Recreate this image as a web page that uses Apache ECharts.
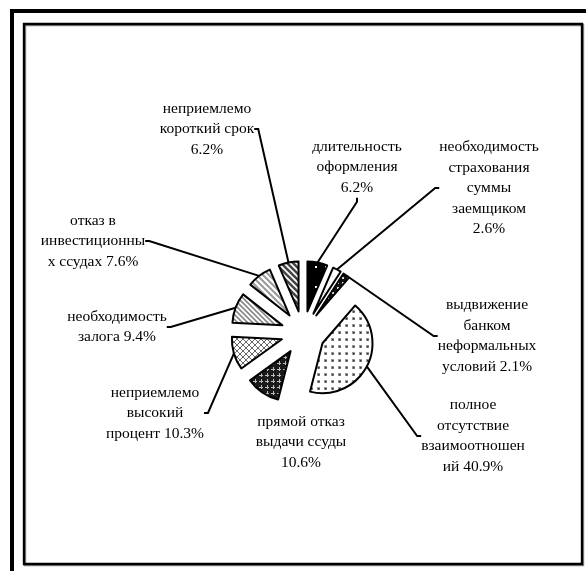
<!DOCTYPE html>
<html>
<head>
<meta charset="utf-8">
<script src="https://cdn.jsdelivr.net/npm/echarts@6/dist/echarts.min.js"></script>
<style>
  html, body { margin: 0; padding: 0; background: #fff; }
  #chart { width: 586px; height: 571px; }
</style>
</head>
<body>
<div id="chart"></div>
<script>
// Reasons for refusal / difficulties in bank lending, share of answers (%)
const categories = [
  'длительность оформления',
  'необходимость страхования суммы заемщиком',
  'выдвижение банком неформальных условий',
  'полное отсутствие взаимоотношений',
  'прямой отказ выдачи ссуды',
  'неприемлемо высокий процент',
  'необходимость залога',
  'отказ в инвестиционных ссудах',
  'неприемлемо короткий срок'
];
const values = [6.2, 2.6, 2.1, 40.9, 10.6, 10.3, 9.4, 7.6, 6.2];

// Wrapped label text; {c} is replaced by the slice value
const labelTexts = [
  'длительность\nоформления\n{c}%',
  'необходимость\nстрахования\nсуммы\nзаемщиком\n{c}%',
  'выдвижение\nбанком\nнеформальных\nусловий {c}%',
  'полное\nотсутствие\nвзаимоотношен\nий {c}%',
  'прямой отказ\nвыдачи ссуды\n{c}%',
  'неприемлемо\nвысокий\nпроцент {c}%',
  'необходимость\nзалога {c}%',
  'отказ в\nинвестиционны\nх ссудах {c}%',
  'неприемлемо\nкороткий срок\n{c}%'
];

// Centre of each label block (px)
const labelPos = [
  [357, 167], [489, 188], [487, 336], [473, 436], [301, 442],
  [155, 413], [117, 327], [93, 241], [207, 129]
];
// Side of the label block the leader line attaches to (null = no leader)
const leaderSide = ['bottom', 'left', 'left', 'left', null, 'right', 'right', 'right', 'right'];

// Pie geometry
const PIE_CENTER = [303, 333];
const PIE_RADIUS = 50;
const EXPLODE = 22;
const LEADER_TICK = 4;

// ---- fill patterns ----
function tile(w, h, draw) {
  const c = document.createElement('canvas');
  c.width = w; c.height = h;
  const g = c.getContext('2d');
  draw(g, w, h);
  return { image: c, repeat: 'repeat' };
}
function stripes(p, bg, fg, lw) {
  return tile(p, p, function (g) {
    g.fillStyle = bg; g.fillRect(0, 0, p, p);
    g.strokeStyle = fg; g.lineWidth = lw;
    for (let k = -p; k <= p; k += p) {
      g.beginPath(); g.moveTo(k - 1, -1); g.lineTo(k + p + 1, p + 1); g.stroke();
    }
  });
}
const patterns = [
  // black with sparse white dots
  tile(10, 20, function (g) {
    g.fillStyle = '#000'; g.fillRect(0, 0, 10, 20);
    g.fillStyle = '#fff'; g.fillRect(5, 6, 2, 2);
  }),
  // near-white
  tile(8, 8, function (g) {
    g.fillStyle = '#fff'; g.fillRect(0, 0, 8, 8);
    g.fillStyle = '#bbb'; g.fillRect(4, 4, 1, 1);
  }),
  // dark with white dots
  tile(5, 5, function (g) {
    g.fillStyle = '#111'; g.fillRect(0, 0, 5, 5);
    g.fillStyle = '#ddd'; g.fillRect(2, 2, 2, 2);
  }),
  // white with dark dots
  tile(7, 7, function (g) {
    g.fillStyle = '#fff'; g.fillRect(0, 0, 7, 7);
    g.fillStyle = '#999'; g.fillRect(2, 2, 3, 3);
    g.fillStyle = '#333'; g.fillRect(3, 3, 1.5, 1.5);
  }),
  // dark plaid
  tile(6, 6, function (g) {
    g.fillStyle = '#1a1a1a'; g.fillRect(0, 0, 6, 6);
    g.fillStyle = '#bbb'; g.fillRect(1, 3, 4, 1); g.fillRect(3, 1, 1, 4);
  }),
  // light lattice
  tile(6, 6, function (g) {
    g.fillStyle = '#fff'; g.fillRect(0, 0, 6, 6);
    g.strokeStyle = '#666'; g.lineWidth = 1;
    g.beginPath(); g.moveTo(0, 0); g.lineTo(6, 6); g.moveTo(6, 0); g.lineTo(0, 6); g.stroke();
  }),
  stripes(5, '#fff', '#888', 1.6),
  stripes(6, '#fff', '#999', 2),
  stripes(6, '#fff', '#444', 2.6)
];

// Leader line: from the slice's outer-arc midpoint (given by the pie layout)
// to the chosen side of the label block, ending with a short straight tick.
function leaderPoints(params) {
  const i = params.dataIndex;
  const side = leaderSide[i];
  if (!side || !params.labelLinePoints) return null;
  const p = labelPos[i];
  const w = params.labelRect.width, h = params.labelRect.height;
  let end, tick;
  if (side === 'right') { end = [p[0] + w / 2, p[1]]; tick = [end[0] + LEADER_TICK, end[1]]; }
  else if (side === 'left') { end = [p[0] - w / 2, p[1]]; tick = [end[0] - LEADER_TICK, end[1]]; }
  else if (side === 'bottom') { end = [p[0], p[1] + h / 2]; tick = [end[0], end[1] + LEADER_TICK]; }
  else { end = [p[0], p[1] - h / 2]; tick = [end[0], end[1] - LEADER_TICK]; }
  const start = params.labelLinePoints[0];
  return [[start[0], start[1]], tick, end];
}

// Each slice is drawn by its own pie series whose centre is pushed out
// along the slice bisector (exploded pie); the other slices stay invisible.
const total = values.reduce(function (a, b) { return a + b; }, 0);
let acc = 0;
const series = values.map(function (v, i) {
  const mid = (acc + v / 2) / total * 2 * Math.PI;   // clockwise from 12 o'clock
  acc += v;
  const center = [
    PIE_CENTER[0] + EXPLODE * Math.sin(mid),
    PIE_CENTER[1] - EXPLODE * Math.cos(mid)
  ];
  return {
    type: 'pie',
    center: center,
    radius: PIE_RADIUS,
    startAngle: 90,
    clockwise: true,
    avoidLabelOverlap: false,
    silent: true,
    emphasis: { disabled: true },
    label: {
      show: false,
      position: 'outside',
      color: '#000',
      fontFamily: 'Liberation Serif',
      fontSize: 15.5,
      lineHeight: 20.5,
      align: 'center'
    },
    labelLine: {
      show: false,
      length: 10,
      length2: 4,
      smooth: false,
      lineStyle: { color: '#000', width: 2 }
    },
    labelLayout: function (params) {
      const p = labelPos[params.dataIndex];
      const out = { x: p[0], y: p[1], align: 'center', verticalAlign: 'middle' };
      const pts = leaderPoints(params);
      if (pts) out.labelLinePoints = pts;
      return out;
    },
    data: values.map(function (w, j) {
      if (j !== i) {
        return {
          name: categories[j], value: w,
          itemStyle: { color: 'rgba(0,0,0,0)', borderWidth: 0 },
          label: { show: false }, labelLine: { show: false }
        };
      }
      return {
        name: categories[j], value: w,
        itemStyle: { color: patterns[j], borderColor: '#000', borderWidth: 2 },
        label: { show: true, formatter: labelTexts[j] },
        labelLine: { show: leaderSide[j] !== null }
      };
    })
  };
});

const chart = echarts.init(document.getElementById('chart'), null, { renderer: 'canvas' });
chart.setOption({
  backgroundColor: '#fff',
  animation: false,
  graphic: [
    { type: 'rect', silent: true, shape: { x: 12, y: 11, width: 620, height: 620 },
      style: { fill: 'none', stroke: '#000', lineWidth: 4 } },
    { type: 'rect', silent: true, shape: { x: 24, y: 24, width: 558, height: 540 },
      style: { fill: 'none', stroke: '#000', lineWidth: 2.4,
               shadowColor: 'rgba(0,0,0,0.45)', shadowOffsetX: 1, shadowOffsetY: 1 } }
  ],
  series: series
});
</script>
</body>
</html>
